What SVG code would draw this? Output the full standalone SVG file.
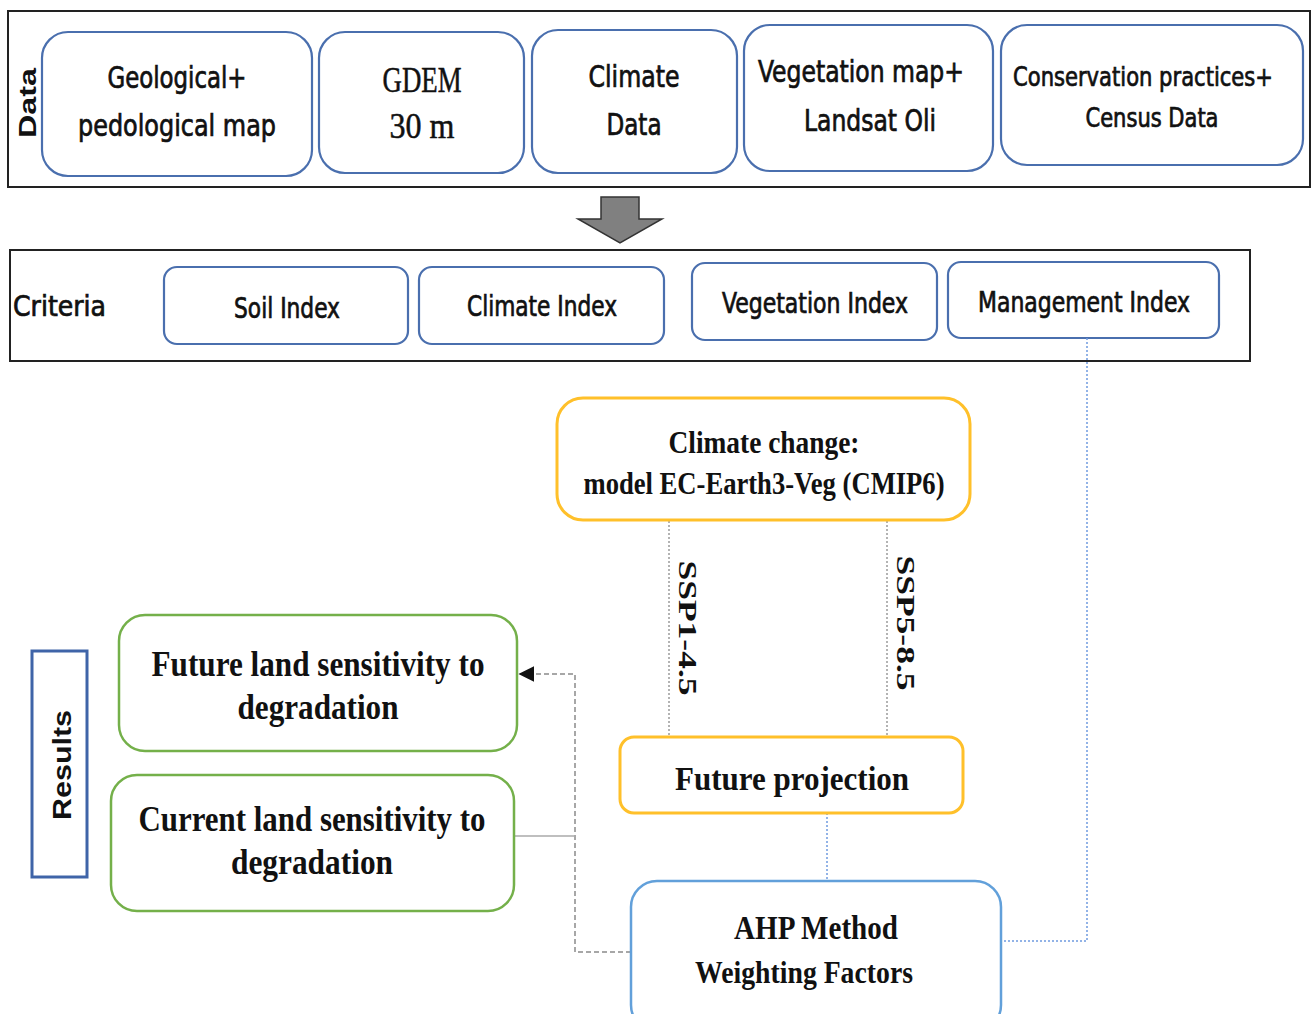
<svg xmlns="http://www.w3.org/2000/svg" width="1312" height="1014" viewBox="0 0 1312 1014">
<style>
.frame{fill:#fff;stroke:#222;stroke-width:2}
.dn{fill:#fff;stroke:#4A6FAE;stroke-width:2.2}
.cn{fill:#fff;stroke:#4A6FAE;stroke-width:2.2}
.on{fill:#fff;stroke:#FFC02A;stroke-width:3}
.gn{fill:#fff;stroke:#74B04A;stroke-width:2.5}
.bn{fill:#fff;stroke:#62A0DA;stroke-width:2.5}
.cal{font-family:"Liberation Sans Narrow","DejaVu Sans Condensed","Liberation Sans",sans-serif;fill:#111;stroke:#111;stroke-width:0.7;text-anchor:middle}
.cam{font-family:"Liberation Serif","DejaVu Serif",serif;fill:#111;stroke:#111;stroke-width:0.5;text-anchor:middle}
.camb{font-family:"Liberation Serif","DejaVu Serif",serif;font-weight:bold;fill:#111;text-anchor:middle}
.ar{font-family:"Liberation Sans",Arial,sans-serif;font-weight:bold;fill:#111;text-anchor:middle}
.dot{fill:none;stroke:#9a9a9a;stroke-width:1.5;stroke-dasharray:2 2}
.bdot{fill:none;stroke:#6F9BE0;stroke-width:1.5;stroke-dasharray:2 2}
.gdash{fill:none;stroke:#8a8a8a;stroke-width:1.5;stroke-dasharray:5 3}
.gsol{fill:none;stroke:#aaa;stroke-width:1.5}
</style>
<defs>
<marker id="ah" viewBox="0 0 10 10" refX="9" refY="5" markerWidth="16" markerHeight="16" markerUnits="userSpaceOnUse" orient="auto">
<path d="M0,0 L10,5 L0,10 z" fill="#111"/>
</marker>
</defs>
<rect width="1312" height="1014" fill="#fff"/>

<g id="data-frame">
<rect class="frame" x="8" y="11" width="1302" height="176"/>
<text class="ar" font-size="24" transform="translate(36,103) rotate(-90)" textLength="70" lengthAdjust="spacingAndGlyphs">Data</text>
</g>
<g id="geological">
<rect class="dn" x="42" y="32" width="270" height="144" rx="26"/>
<text class="cal" font-size="30" x="177" y="88" textLength="139" lengthAdjust="spacingAndGlyphs">Geological+</text>
<text class="cal" font-size="30" x="177" y="136" textLength="198" lengthAdjust="spacingAndGlyphs">pedological map</text>
</g>
<g id="gdem">
<rect class="dn" x="319" y="32" width="205" height="141" rx="26"/>
<text class="cam" font-size="36" x="422" y="92" textLength="79" lengthAdjust="spacingAndGlyphs">GDEM</text>
<text class="cam" font-size="36" x="422" y="138" textLength="65" lengthAdjust="spacingAndGlyphs">30 m</text>
</g>
<g id="climate-data">
<rect class="dn" x="532" y="30" width="205" height="143" rx="26"/>
<text class="cal" font-size="30" x="634" y="87" textLength="91" lengthAdjust="spacingAndGlyphs">Climate</text>
<text class="cal" font-size="30" x="634" y="135" textLength="55" lengthAdjust="spacingAndGlyphs">Data</text>
</g>
<g id="vegetation-map">
<rect class="dn" x="744" y="25" width="249" height="146" rx="26"/>
<text class="cal" font-size="30" x="861" y="82" textLength="206" lengthAdjust="spacingAndGlyphs">Vegetation map+</text>
<text class="cal" font-size="30" x="870" y="131" textLength="132" lengthAdjust="spacingAndGlyphs">Landsat Oli</text>
</g>
<g id="conservation">
<rect class="dn" x="1001" y="25" width="302" height="140" rx="26"/>
<text class="cal" font-size="27" x="1143" y="86" textLength="260" lengthAdjust="spacingAndGlyphs">Conservation practices+</text>
<text class="cal" font-size="27" x="1152" y="127" textLength="133" lengthAdjust="spacingAndGlyphs">Census Data</text>
</g>

<g id="criteria-frame">
<rect class="frame" x="10" y="250" width="1240" height="111"/>
<text class="cal" font-size="28" x="13" y="316" style="text-anchor:start" textLength="93" lengthAdjust="spacingAndGlyphs">Criteria</text>
</g>
<g id="soil-index">
<rect class="cn" x="164" y="267" width="244" height="77" rx="13"/>
<text class="cal" font-size="28" x="287" y="318" textLength="106" lengthAdjust="spacingAndGlyphs">Soil Index</text>
</g>
<g id="climate-index">
<rect class="cn" x="419" y="267" width="245" height="77" rx="13"/>
<text class="cal" font-size="28" x="542" y="316" textLength="150" lengthAdjust="spacingAndGlyphs">Climate Index</text>
</g>
<g id="vegetation-index">
<rect class="cn" x="692" y="263" width="245" height="77" rx="13"/>
<text class="cal" font-size="28" x="815" y="313" textLength="186" lengthAdjust="spacingAndGlyphs">Vegetation Index</text>
</g>
<g id="management-index">
<rect class="cn" x="948" y="262" width="271" height="76" rx="13"/>
<text class="cal" font-size="28" x="1084" y="312" textLength="212" lengthAdjust="spacingAndGlyphs">Management Index</text>
</g>

<g id="connectors">
<path d="M601,197 L639,197 L639,219 L662,219 L620,243 L578,219 L601,219 Z" fill="#808080" stroke="#333" stroke-width="1.5" stroke-linejoin="miter"/>
<path class="dot" d="M669,521 L669,737"/>
<path class="dot" d="M887,521 L887,737"/>
<path class="bdot" d="M827,813 L827,881"/>
<path class="bdot" d="M1087,338 L1087,941 L1001,941"/>
<path class="gdash" d="M631,952 L575,952 L575,674 L520,674" marker-end="url(#ah)"/>
<path class="gsol" d="M514,836 L575,836"/>
<text class="camb" font-size="26" transform="translate(679,628) rotate(90)" textLength="135" lengthAdjust="spacingAndGlyphs">SSP1-4.5</text>
<text class="camb" font-size="26" transform="translate(897,623) rotate(90)" textLength="135" lengthAdjust="spacingAndGlyphs">SSP5-8.5</text>
</g>

<g id="climate-change">
<rect class="on" x="557" y="398" width="413" height="122" rx="26"/>
<text class="camb" font-size="31" x="764" y="453" textLength="191" lengthAdjust="spacingAndGlyphs">Climate change:</text>
<text class="camb" font-size="31" x="764" y="494" textLength="361" lengthAdjust="spacingAndGlyphs">model EC-Earth3-Veg (CMIP6)</text>
</g>
<g id="future-projection">
<rect class="on" x="620" y="737" width="343" height="76" rx="14"/>
<text class="camb" font-size="34" x="792" y="790" textLength="234" lengthAdjust="spacingAndGlyphs">Future projection</text>
</g>
<g id="ahp">
<rect class="bn" x="631" y="881" width="370" height="150" rx="26"/>
<text class="camb" font-size="34" x="816" y="939" textLength="164" lengthAdjust="spacingAndGlyphs">AHP Method</text>
<text class="camb" font-size="32" x="804" y="983" textLength="218" lengthAdjust="spacingAndGlyphs">Weighting Factors</text>
</g>
<g id="results">
<rect x="32" y="651" width="55" height="226" fill="#fff" stroke="#3F64A8" stroke-width="3"/>
<text class="ar" font-size="25" transform="translate(71,765) rotate(-90)" textLength="110" lengthAdjust="spacingAndGlyphs">Results</text>
</g>
<g id="future-land">
<rect class="gn" x="119" y="615" width="398" height="136" rx="26"/>
<text class="camb" font-size="36" x="318" y="676" textLength="333" lengthAdjust="spacingAndGlyphs">Future land sensitivity to</text>
<text class="camb" font-size="36" x="318" y="719" textLength="161" lengthAdjust="spacingAndGlyphs">degradation</text>
</g>
<g id="current-land">
<rect class="gn" x="111" y="775" width="403" height="136" rx="26"/>
<text class="camb" font-size="36" x="312" y="831" textLength="347" lengthAdjust="spacingAndGlyphs">Current land sensitivity to</text>
<text class="camb" font-size="36" x="312" y="874" textLength="162" lengthAdjust="spacingAndGlyphs">degradation</text>
</g>
</svg>
